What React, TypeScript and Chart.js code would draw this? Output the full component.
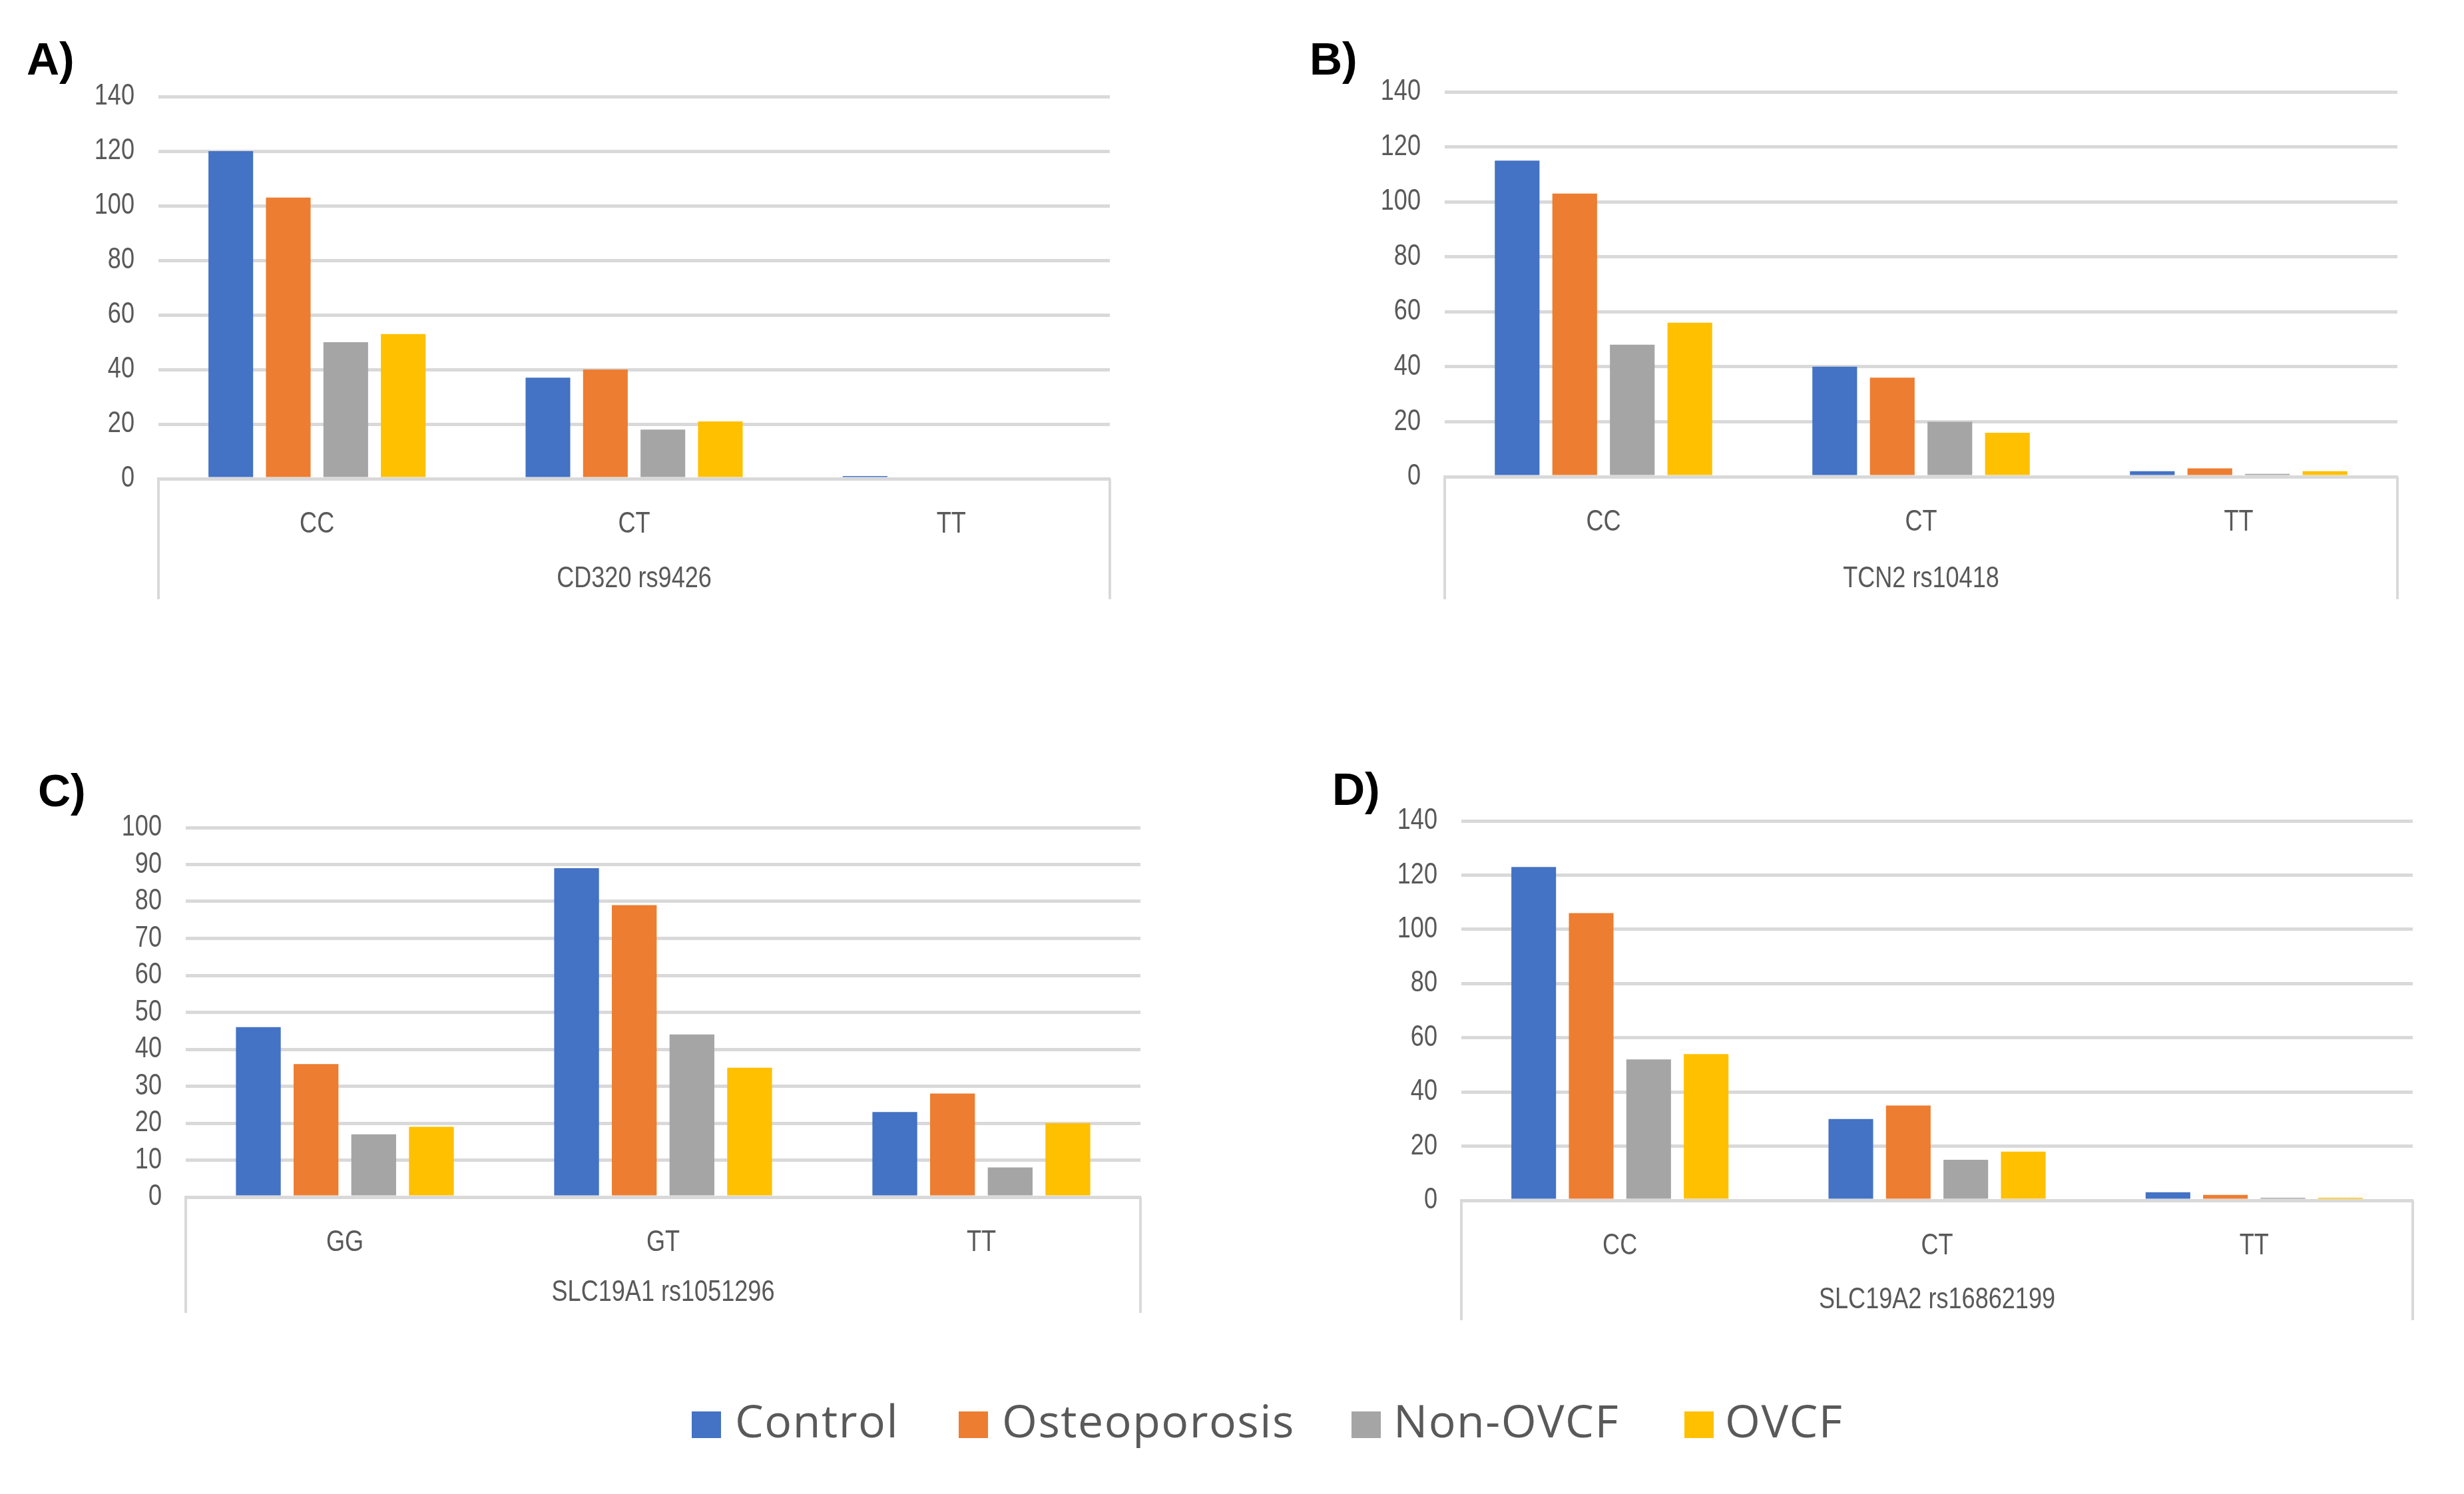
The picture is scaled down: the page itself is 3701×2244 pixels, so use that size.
import React, { useEffect, useRef } from "react";
import { Chart, registerables } from "chart.js";

Chart.register(...registerables);

// ---------------- data ----------------
const seriesNames = ["Control", "Osteoporosis", "Non-OVCF", "OVCF"];
const seriesColors = ["#4472C4", "#ED7D31", "#A5A5A5", "#FFC000"];

const genotypesA = ["CC", "CT", "TT"];
const controlA = [120, 37, 1];
const osteoA = [103, 40, 0];
const nonOvcfA = [50, 18, 0];
const ovcfA = [53, 21, 0];

const genotypesB = ["CC", "CT", "TT"];
const controlB = [115, 40, 2];
const osteoB = [103, 36, 3];
const nonOvcfB = [48, 20, 1];
const ovcfB = [56, 16, 2];

const genotypesC = ["GG", "GT", "TT"];
const controlC = [46, 89, 23];
const osteoC = [36, 79, 28];
const nonOvcfC = [17, 44, 8];
const ovcfC = [19, 35, 20];

const genotypesD = ["CC", "CT", "TT"];
const controlD = [123, 30, 3];
const osteoD = [106, 35, 2];
const nonOvcfD = [52, 15, 1];
const ovcfD = [54, 18, 1];

const axisMaxABD = 140;
const axisStepABD = 20;
const axisMaxC = 100;
const axisStepC = 10;

// ---------------- layout / style ----------------
const TICK_FONT = "'Liberation Sans', Arial, sans-serif";
const SQUEEZE = 0.82; // horizontal condensing of axis text (reference uses a narrow face)
const TEXT_COLOR = "#595959";
const GRID_COLOR = "#D9D9D9";
const Y_AXIS_W = 200;
const PAD_TOP = 40;
const PAD_RIGHT = 20;
const PAD_BOTTOM = 4;

type PanelDef = {
  letter: string;
  title: string;
  labels: string[];
  series: number[][];
  max: number;
  step: number;
  L: number; R: number; T: number; B: number; frameB: number;
  letterX: number; letterY: number;
};

const panels: PanelDef[] = [
  { letter: "A)", title: "CD320 rs9426", labels: genotypesA, series: [controlA, osteoA, nonOvcfA, ovcfA],
    max: axisMaxABD, step: axisStepABD, L: 238, R: 1667, T: 145, B: 719, frameB: 900, letterX: 40, letterY: 54 },
  { letter: "B)", title: "TCN2 rs10418", labels: genotypesB, series: [controlB, osteoB, nonOvcfB, ovcfB],
    max: axisMaxABD, step: axisStepABD, L: 2170, R: 3601, T: 138, B: 716, frameB: 900, letterX: 1967, letterY: 54 },
  { letter: "C)", title: "SLC19A1 rs1051296", labels: genotypesC, series: [controlC, osteoC, nonOvcfC, ovcfC],
    max: axisMaxC, step: axisStepC, L: 279, R: 1713, T: 1243, B: 1798, frameB: 1972, letterX: 57, letterY: 1153 },
  { letter: "D)", title: "SLC19A2 rs16862199", labels: genotypesD, series: [controlD, osteoD, nonOvcfD, ovcfD],
    max: axisMaxABD, step: axisStepABD, L: 2195, R: 3624, T: 1233, B: 1803, frameB: 1983, letterX: 2001, letterY: 1151 },
];

const framePlugin = {
  id: "excelFrame",
  afterDraw(chart: any) {
    const xs = chart.scales.x;
    const ctx = chart.ctx;
    ctx.save();
    ctx.strokeStyle = GRID_COLOR;
    ctx.lineWidth = 4;
    ctx.beginPath();
    [xs.left, xs.right].forEach((x: number) => {
      ctx.moveTo(x, xs.top);
      ctx.lineTo(x, xs.bottom);
    });
    ctx.stroke();
    ctx.restore();
  },
};

function condenseText(ctx: any) {
  const orig = ctx.fillText.bind(ctx);
  ctx.fillText = function (text: string, x: number, y: number, maxWidth?: number) {
    ctx.save();
    ctx.translate(x, y);
    ctx.scale(SQUEEZE, 1);
    if (maxWidth !== undefined && maxWidth !== null) orig(text, 0, 0, maxWidth / SQUEEZE);
    else orig(text, 0, 0);
    ctx.restore();
  };
}

function Panel({ p }: { p: PanelDef }) {
  const ref = useRef<HTMLCanvasElement | null>(null);
  const width = Y_AXIS_W + (p.R - p.L) + PAD_RIGHT;
  const height = PAD_TOP + (p.frameB - p.T) + PAD_BOTTOM;
  const xAxisH = p.frameB - p.B;

  useEffect(() => {
    const canvas = ref.current;
    if (!canvas) return;
    condenseText(canvas.getContext("2d"));
    const chart = new Chart(canvas, {
      type: "bar",
      data: {
        labels: p.labels,
        datasets: p.series.map((vals, i) => ({
          label: seriesNames[i],
          data: vals,
          backgroundColor: seriesColors[i],
          borderWidth: 0,
          categoryPercentage: 0.725,
          barPercentage: 0.777,
        })),
      },
      options: {
        animation: false,
        responsive: false,
        maintainAspectRatio: false,
        devicePixelRatio: 1,
        layout: { padding: { top: PAD_TOP, right: PAD_RIGHT, bottom: PAD_BOTTOM, left: 0 } },
        plugins: { legend: { display: false }, tooltip: { enabled: false } },
        scales: {
          x: {
            grid: { display: false },
            border: { display: true, color: GRID_COLOR, width: 5 },
            ticks: {
              color: TEXT_COLOR,
              font: { family: TICK_FONT, size: 44 },
              padding: 34,
              maxRotation: 0,
              autoSkip: false,
            },
            title: {
              display: true,
              text: p.title,
              color: TEXT_COLOR,
              font: { family: TICK_FONT, size: 44 },
              padding: { top: 0, bottom: 4 },
            },
            afterFit: (s: any) => {
              s.height = xAxisH;
            },
          },
          y: {
            min: 0,
            max: p.max,
            ticks: {
              stepSize: p.step,
              autoSkip: false,
              color: TEXT_COLOR,
              font: { family: TICK_FONT, size: 44 },
              padding: 36,
            },
            grid: { color: GRID_COLOR, lineWidth: 5, drawTicks: false },
            border: { display: false },
            afterFit: (s: any) => {
              s.width = Y_AXIS_W;
              s.paddingTop = 0;
              s.paddingBottom = 0;
            },
          },
        },
      } as any,
      plugins: [framePlugin],
    });
    return () => chart.destroy();
  }, []);

  return (
    <>
      <canvas
        ref={ref}
        width={width}
        height={height}
        style={{ position: "absolute", left: p.L - Y_AXIS_W, top: p.T - PAD_TOP, width, height }}
      />
      <div
        style={{
          position: "absolute",
          left: p.letterX,
          top: p.letterY,
          font: "bold 68px 'Liberation Sans', Arial, sans-serif",
          lineHeight: 1,
          color: "#000",
          whiteSpace: "nowrap",
        }}
      >
        {p.letter}
      </div>
    </>
  );
}

const legendPos = [
  { sq: 1039, tx: 1104 },
  { sq: 1440, tx: 1505 },
  { sq: 2030, tx: 2093 },
  { sq: 2530, tx: 2591 },
];

export default function App() {
  return (
    <div
      style={{
        position: "absolute",
        left: 0,
        top: 0,
        width: 3701,
        height: 2244,
        background: "#fff",
        overflow: "hidden",
      }}
    >
      {panels.map((p) => (
        <Panel key={p.letter} p={p} />
      ))}
      {seriesNames.map((name, i) => (
        <React.Fragment key={name}>
          <div
            style={{
              position: "absolute",
              left: legendPos[i].sq,
              top: 2120,
              width: 44,
              height: 40,
              background: seriesColors[i],
            }}
          />
          <div
            style={{
              position: "absolute",
              left: legendPos[i].tx,
              top: 2099,
              font: "68px 'Open Sans', sans-serif",
              letterSpacing: "1.5px",
              lineHeight: 1,
              color: TEXT_COLOR,
              whiteSpace: "nowrap",
            }}
          >
            {name}
          </div>
        </React.Fragment>
      ))}
    </div>
  );
}
